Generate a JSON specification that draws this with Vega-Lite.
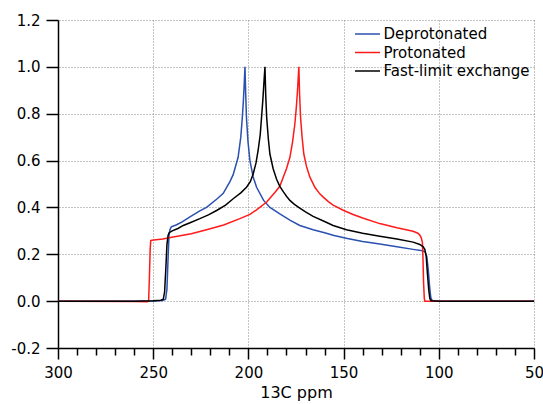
{
  "$schema": "https://vega.github.io/schema/vega-lite/v6.json",
  "width": 476,
  "height": 328,
  "autosize": "none",
  "padding": {"left": 58, "top": 20, "right": 9, "bottom": 56},
  "background": "white",
  "config": {
    "view": {"stroke": null},
    "font": "DejaVu Sans",
    "axis": {"gridColor": "#888888", "gridDash": [1, 2], "gridWidth": 1, "domainColor": "black", "tickColor": "black", "domainWidth": 1.5, "tickWidth": 1.5, "labelColor": "black", "titleColor": "black", "labelFont": "DejaVu Sans", "titleFont": "DejaVu Sans", "labelFontSize": 15, "titleFontSize": 16, "titleFontWeight": "normal"}
  },
  "datasets": {
    "curves": [
      {"s": "Deprotonated", "ppm": 300, "v": 0},
      {"s": "Deprotonated", "ppm": 260, "v": 0},
      {"s": "Deprotonated", "ppm": 250, "v": 0.001},
      {"s": "Deprotonated", "ppm": 245, "v": 0.003},
      {"s": "Deprotonated", "ppm": 243.5, "v": 0.008},
      {"s": "Deprotonated", "ppm": 242.8, "v": 0.05},
      {"s": "Deprotonated", "ppm": 242.2, "v": 0.18},
      {"s": "Deprotonated", "ppm": 241.7, "v": 0.28},
      {"s": "Deprotonated", "ppm": 241.2, "v": 0.305},
      {"s": "Deprotonated", "ppm": 240.5, "v": 0.317},
      {"s": "Deprotonated", "ppm": 238, "v": 0.325},
      {"s": "Deprotonated", "ppm": 235, "v": 0.337},
      {"s": "Deprotonated", "ppm": 230.7, "v": 0.36},
      {"s": "Deprotonated", "ppm": 225.5, "v": 0.385},
      {"s": "Deprotonated", "ppm": 222, "v": 0.4},
      {"s": "Deprotonated", "ppm": 216.7, "v": 0.435},
      {"s": "Deprotonated", "ppm": 213.2, "v": 0.46},
      {"s": "Deprotonated", "ppm": 209.7, "v": 0.51},
      {"s": "Deprotonated", "ppm": 208, "v": 0.54},
      {"s": "Deprotonated", "ppm": 205.4, "v": 0.614},
      {"s": "Deprotonated", "ppm": 204, "v": 0.7},
      {"s": "Deprotonated", "ppm": 203.2, "v": 0.784},
      {"s": "Deprotonated", "ppm": 202.6, "v": 0.86},
      {"s": "Deprotonated", "ppm": 202.2, "v": 0.926},
      {"s": "Deprotonated", "ppm": 201.8, "v": 1.0},
      {"s": "Deprotonated", "ppm": 201.4, "v": 0.88},
      {"s": "Deprotonated", "ppm": 201, "v": 0.78},
      {"s": "Deprotonated", "ppm": 200.2, "v": 0.68},
      {"s": "Deprotonated", "ppm": 199.2, "v": 0.6},
      {"s": "Deprotonated", "ppm": 197.5, "v": 0.53},
      {"s": "Deprotonated", "ppm": 195.7, "v": 0.486},
      {"s": "Deprotonated", "ppm": 192, "v": 0.43},
      {"s": "Deprotonated", "ppm": 188.7, "v": 0.4},
      {"s": "Deprotonated", "ppm": 183.5, "v": 0.372},
      {"s": "Deprotonated", "ppm": 178, "v": 0.345},
      {"s": "Deprotonated", "ppm": 173, "v": 0.323},
      {"s": "Deprotonated", "ppm": 166, "v": 0.305},
      {"s": "Deprotonated", "ppm": 160, "v": 0.292},
      {"s": "Deprotonated", "ppm": 155, "v": 0.28},
      {"s": "Deprotonated", "ppm": 148, "v": 0.267},
      {"s": "Deprotonated", "ppm": 140, "v": 0.255},
      {"s": "Deprotonated", "ppm": 131, "v": 0.244},
      {"s": "Deprotonated", "ppm": 122, "v": 0.232},
      {"s": "Deprotonated", "ppm": 113.5, "v": 0.221},
      {"s": "Deprotonated", "ppm": 108.5, "v": 0.215},
      {"s": "Deprotonated", "ppm": 107.2, "v": 0.21},
      {"s": "Deprotonated", "ppm": 106.3, "v": 0.19},
      {"s": "Deprotonated", "ppm": 105.5, "v": 0.13},
      {"s": "Deprotonated", "ppm": 104.8, "v": 0.06},
      {"s": "Deprotonated", "ppm": 104.2, "v": 0.015},
      {"s": "Deprotonated", "ppm": 103.5, "v": 0.003},
      {"s": "Deprotonated", "ppm": 100, "v": 0},
      {"s": "Deprotonated", "ppm": 50, "v": 0},
      {"s": "Protonated", "ppm": 300, "v": 0},
      {"s": "Protonated", "ppm": 260, "v": -0.002},
      {"s": "Protonated", "ppm": 253, "v": -0.003},
      {"s": "Protonated", "ppm": 252.4, "v": 0.0},
      {"s": "Protonated", "ppm": 252, "v": 0.1},
      {"s": "Protonated", "ppm": 251.6, "v": 0.22},
      {"s": "Protonated", "ppm": 251.3, "v": 0.258},
      {"s": "Protonated", "ppm": 250.8, "v": 0.26},
      {"s": "Protonated", "ppm": 245, "v": 0.265},
      {"s": "Protonated", "ppm": 239.5, "v": 0.274},
      {"s": "Protonated", "ppm": 230, "v": 0.288},
      {"s": "Protonated", "ppm": 222, "v": 0.305},
      {"s": "Protonated", "ppm": 213, "v": 0.325},
      {"s": "Protonated", "ppm": 204.5, "v": 0.352},
      {"s": "Protonated", "ppm": 199.2, "v": 0.37},
      {"s": "Protonated", "ppm": 195.7, "v": 0.39},
      {"s": "Protonated", "ppm": 190.4, "v": 0.423},
      {"s": "Protonated", "ppm": 186, "v": 0.465},
      {"s": "Protonated", "ppm": 183.5, "v": 0.49},
      {"s": "Protonated", "ppm": 181.7, "v": 0.529},
      {"s": "Protonated", "ppm": 180, "v": 0.565},
      {"s": "Protonated", "ppm": 178.2, "v": 0.614},
      {"s": "Protonated", "ppm": 176.8, "v": 0.68},
      {"s": "Protonated", "ppm": 175.6, "v": 0.756},
      {"s": "Protonated", "ppm": 174.8, "v": 0.83},
      {"s": "Protonated", "ppm": 174.2, "v": 0.9},
      {"s": "Protonated", "ppm": 173.5, "v": 1.0},
      {"s": "Protonated", "ppm": 173.1, "v": 0.88},
      {"s": "Protonated", "ppm": 172.6, "v": 0.784},
      {"s": "Protonated", "ppm": 171.8, "v": 0.7},
      {"s": "Protonated", "ppm": 170.9, "v": 0.628},
      {"s": "Protonated", "ppm": 169.5, "v": 0.575},
      {"s": "Protonated", "ppm": 167.7, "v": 0.529},
      {"s": "Protonated", "ppm": 165, "v": 0.485},
      {"s": "Protonated", "ppm": 162.5, "v": 0.458},
      {"s": "Protonated", "ppm": 160.7, "v": 0.444},
      {"s": "Protonated", "ppm": 158, "v": 0.425},
      {"s": "Protonated", "ppm": 155.5, "v": 0.41},
      {"s": "Protonated", "ppm": 150.2, "v": 0.388},
      {"s": "Protonated", "ppm": 145, "v": 0.37},
      {"s": "Protonated", "ppm": 140, "v": 0.355},
      {"s": "Protonated", "ppm": 131, "v": 0.331},
      {"s": "Protonated", "ppm": 122, "v": 0.313},
      {"s": "Protonated", "ppm": 113.5, "v": 0.298},
      {"s": "Protonated", "ppm": 111, "v": 0.29},
      {"s": "Protonated", "ppm": 110, "v": 0.282},
      {"s": "Protonated", "ppm": 109.2, "v": 0.27},
      {"s": "Protonated", "ppm": 108.6, "v": 0.25},
      {"s": "Protonated", "ppm": 108.3, "v": 0.18},
      {"s": "Protonated", "ppm": 108, "v": 0.08},
      {"s": "Protonated", "ppm": 107.6, "v": 0.01},
      {"s": "Protonated", "ppm": 107.3, "v": 0},
      {"s": "Protonated", "ppm": 100, "v": 0},
      {"s": "Protonated", "ppm": 50, "v": 0},
      {"s": "Fast-limit exchange", "ppm": 300, "v": 0},
      {"s": "Fast-limit exchange", "ppm": 260, "v": 0},
      {"s": "Fast-limit exchange", "ppm": 250, "v": 0.002},
      {"s": "Fast-limit exchange", "ppm": 246, "v": 0.004},
      {"s": "Fast-limit exchange", "ppm": 244.7, "v": 0.008},
      {"s": "Fast-limit exchange", "ppm": 244, "v": 0.04},
      {"s": "Fast-limit exchange", "ppm": 243.3, "v": 0.15},
      {"s": "Fast-limit exchange", "ppm": 242.8, "v": 0.24},
      {"s": "Fast-limit exchange", "ppm": 242.2, "v": 0.28},
      {"s": "Fast-limit exchange", "ppm": 241.6, "v": 0.292},
      {"s": "Fast-limit exchange", "ppm": 240, "v": 0.3},
      {"s": "Fast-limit exchange", "ppm": 237, "v": 0.31},
      {"s": "Fast-limit exchange", "ppm": 234.2, "v": 0.323},
      {"s": "Fast-limit exchange", "ppm": 230, "v": 0.337},
      {"s": "Fast-limit exchange", "ppm": 225.5, "v": 0.352},
      {"s": "Fast-limit exchange", "ppm": 221, "v": 0.368},
      {"s": "Fast-limit exchange", "ppm": 216.7, "v": 0.387},
      {"s": "Fast-limit exchange", "ppm": 212, "v": 0.41},
      {"s": "Fast-limit exchange", "ppm": 208, "v": 0.437},
      {"s": "Fast-limit exchange", "ppm": 204, "v": 0.462},
      {"s": "Fast-limit exchange", "ppm": 201, "v": 0.486},
      {"s": "Fast-limit exchange", "ppm": 199, "v": 0.51},
      {"s": "Fast-limit exchange", "ppm": 197.5, "v": 0.543},
      {"s": "Fast-limit exchange", "ppm": 196, "v": 0.59},
      {"s": "Fast-limit exchange", "ppm": 194.9, "v": 0.643},
      {"s": "Fast-limit exchange", "ppm": 193.8, "v": 0.71},
      {"s": "Fast-limit exchange", "ppm": 193.1, "v": 0.784},
      {"s": "Fast-limit exchange", "ppm": 192.4, "v": 0.86},
      {"s": "Fast-limit exchange", "ppm": 191.9, "v": 0.926},
      {"s": "Fast-limit exchange", "ppm": 191.3, "v": 1.0},
      {"s": "Fast-limit exchange", "ppm": 190.9, "v": 0.88},
      {"s": "Fast-limit exchange", "ppm": 190.4, "v": 0.784},
      {"s": "Fast-limit exchange", "ppm": 189.5, "v": 0.69},
      {"s": "Fast-limit exchange", "ppm": 188.7, "v": 0.628},
      {"s": "Fast-limit exchange", "ppm": 187, "v": 0.565},
      {"s": "Fast-limit exchange", "ppm": 185.2, "v": 0.52},
      {"s": "Fast-limit exchange", "ppm": 183.5, "v": 0.49},
      {"s": "Fast-limit exchange", "ppm": 181.5, "v": 0.465},
      {"s": "Fast-limit exchange", "ppm": 180, "v": 0.448},
      {"s": "Fast-limit exchange", "ppm": 178.2, "v": 0.43},
      {"s": "Fast-limit exchange", "ppm": 176, "v": 0.414},
      {"s": "Fast-limit exchange", "ppm": 173, "v": 0.397},
      {"s": "Fast-limit exchange", "ppm": 170, "v": 0.381},
      {"s": "Fast-limit exchange", "ppm": 166, "v": 0.362},
      {"s": "Fast-limit exchange", "ppm": 160, "v": 0.34},
      {"s": "Fast-limit exchange", "ppm": 155.5, "v": 0.323},
      {"s": "Fast-limit exchange", "ppm": 148.5, "v": 0.305},
      {"s": "Fast-limit exchange", "ppm": 140, "v": 0.29},
      {"s": "Fast-limit exchange", "ppm": 131, "v": 0.277},
      {"s": "Fast-limit exchange", "ppm": 122, "v": 0.265},
      {"s": "Fast-limit exchange", "ppm": 113.5, "v": 0.252},
      {"s": "Fast-limit exchange", "ppm": 110, "v": 0.242},
      {"s": "Fast-limit exchange", "ppm": 108.2, "v": 0.232},
      {"s": "Fast-limit exchange", "ppm": 107.3, "v": 0.22},
      {"s": "Fast-limit exchange", "ppm": 106.6, "v": 0.19},
      {"s": "Fast-limit exchange", "ppm": 106, "v": 0.12},
      {"s": "Fast-limit exchange", "ppm": 105.3, "v": 0.05},
      {"s": "Fast-limit exchange", "ppm": 104.7, "v": 0.01},
      {"s": "Fast-limit exchange", "ppm": 104, "v": 0.002},
      {"s": "Fast-limit exchange", "ppm": 100, "v": 0},
      {"s": "Fast-limit exchange", "ppm": 50, "v": 0}
    ]
  },
  "data": {"name": "curves"},
  "mark": {"type": "line", "strokeWidth": 1.5, "clip": true},
  "encoding": {
    "x": {
      "field": "ppm", "type": "quantitative",
      "scale": {"domain": [50, 300], "reverse": true, "nice": false, "zero": false},
      "axis": {
        "title": "13C ppm",
        "values": [300, 290, 280, 270, 260, 250, 240, 230, 220, 210, 200, 190, 180, 170, 160, 150, 140, 130, 120, 110, 100, 90, 80, 70, 60, 50],
        "labelExpr": "datum.value % 50 == 0 ? format(datum.value, 'd') : ''",
        "gridOpacity": {"condition": {"test": "datum.value % 50 == 0", "value": 1}, "value": 0},
        "tickSize": {"condition": {"test": "datum.value % 50 == 0", "value": 11}, "value": 7},
        "labelPadding": 6,
        "titlePadding": 4,
        "labelFlush": false
      }
    },
    "y": {
      "field": "v", "type": "quantitative",
      "scale": {"domain": [-0.2, 1.2], "nice": false, "zero": false},
      "axis": {
        "title": null,
        "values": [-0.2, 0, 0.2, 0.4, 0.6, 0.8, 1.0, 1.2],
        "labelExpr": "datum.value < 0 ? '-' + format(-datum.value, '.1f') : format(datum.value, '.1f')",
        "tickSize": 12,
        "labelPadding": 6,
        "labelFlush": false
      }
    },
    "color": {
      "field": "s", "type": "nominal",
      "sort": ["Deprotonated", "Protonated", "Fast-limit exchange"],
      "scale": {"domain": ["Deprotonated", "Protonated", "Fast-limit exchange"], "range": ["#2a50b0", "#ff1a1a", "#000000"]},
      "legend": {
        "title": null,
        "orient": "none",
        "legendX": 302,
        "legendY": 6.5,
        "symbolType": "M-2,0H2",
        "symbolSize": 156.25,
        "symbolStrokeWidth": 1.5,
        "labelFont": "DejaVu Sans",
        "labelFontSize": 15,
        "labelColor": "black",
        "labelOffset": 8.5,
        "rowPadding": 2.5,
        "padding": 0
      }
    }
  }
}
